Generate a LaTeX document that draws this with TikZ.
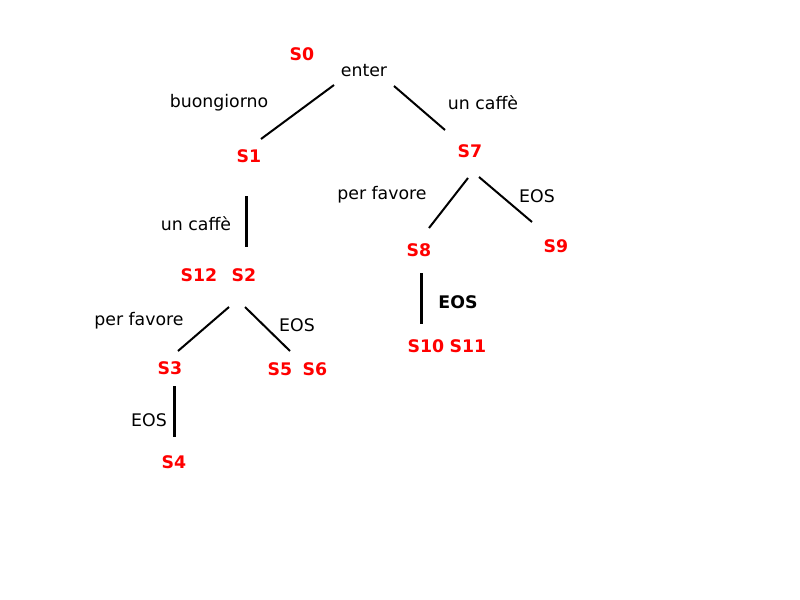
\documentclass[tikz,border=0pt]{standalone}
\usepackage{fontspec}
\setmainfont{DejaVu Sans}
\usepackage{tikz}
\usetikzlibrary{positioning}

\tikzset{
    state/.style={text=red, font=\fontsize{13}{15}\selectfont\bfseries, inner sep=0pt},
    word/.style={font=\fontsize{13}{15}\selectfont, inner sep=0pt},
    edge/.style={line width=1.5pt},
    vedge/.style={line width=2.25pt}
}

\begin{document}
\begin{tikzpicture}[x=0.75pt, y=-0.75pt]
    \useasboundingbox (0,0) rectangle (800,600);
    % states
    \node[state] (S0) at (302,54) {S0};
    \node[state] (S1) at (249,156) {S1};
    \node[state] (S7) at (470,151) {S7};
    \node[state] (S12) at (199,275) {S12};
    \node[state] (S2) at (244,275) {S2};
    \node[state] (S3) at (170,368) {S3};
    \node[state] (S5) at (280,369) {S5};
    \node[state] (S6) at (315,369) {S6};
    \node[state] (S4) at (174,462) {S4};
    \node[state] (S8) at (419,250) {S8};
    \node[state] (S9) at (556,246) {S9};
    \node[state] (S10) at (426,346) {S10};
    \node[state] (S11) at (468,346) {S11};
    % words
    \node[word] (enter) at (364,71) {enter};
    \node[word] (buon) at (219,103) {buongiorno};
    \node[word] (caffeR) at (483,103) {un caffè};
    \node[word] (caffeL) at (196,224) {un caffè};
    \node[word] (favL) at (139,321) {per favore};
    \node[word] (eosA) at (297,325) {EOS};
    \node[word] (eosB) at (149,420) {EOS};
    \node[word] (favR) at (382,195) {per favore};
    \node[word] (eosC) at (537,196) {EOS};
    \node[word, font=\fontsize{13}{15}\selectfont\bfseries] (eosD) at (458,302) {EOS};
    % edges
    \draw[edge] ([shift={(-30,14)}]enter.center) -- ([shift={(12,-17)}]S1.center);
    \draw[edge] ([shift={(30,15)}]enter.center) -- ([shift={(-25,-21)}]S7.center);
    \draw[vedge] ([shift={(-3,40)}]S1.center) -- ([shift={(2,-28)}]S2.center);
    \draw[edge] ([shift={(-15,32)}]S2.center) -- ([shift={(8,-17)}]S3.center);
    \draw[edge] ([shift={(1,32)}]S2.center) -- ([shift={(10,-18)}]S5.center);
    \draw[vedge] ([shift={(4,18)}]S3.center) -- ([shift={(0,-25)}]S4.center);
    \draw[edge] ([shift={(-2,27)}]S7.center) -- ([shift={(10,-22)}]S8.center);
    \draw[edge] ([shift={(9,26)}]S7.center) -- ([shift={(-24,-24)}]S9.center);
    \draw[vedge] ([shift={(2,23)}]S8.center) -- ([shift={(-5,-22)}]S10.center);
\end{tikzpicture}
\end{document}
